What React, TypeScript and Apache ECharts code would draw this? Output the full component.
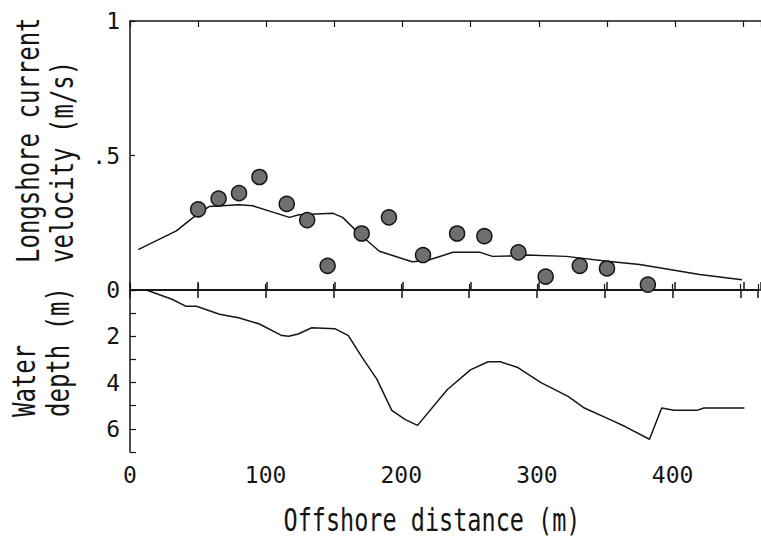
import React, { useEffect, useRef } from "react";
import * as echarts from "echarts";

// Observed longshore current velocity (dots)
const obsDistance = [50, 65, 80, 95, 115, 130, 145, 170, 190, 215, 240, 260, 285, 305, 330, 350, 380];
const obsVelocity = [0.30, 0.34, 0.36, 0.42, 0.32, 0.26, 0.09, 0.21, 0.27, 0.13, 0.21, 0.20, 0.14, 0.05, 0.09, 0.08, 0.02];

// Computed longshore current velocity (line)
const velDistance = [6, 34, 49, 58, 80, 90, 117, 124, 149, 156, 168, 183, 207, 218, 237, 257, 266, 281, 291, 320, 350, 374, 418, 449];
const velValues = [0.15, 0.22, 0.28, 0.31, 0.317, 0.313, 0.27, 0.28, 0.285, 0.27, 0.21, 0.144, 0.105, 0.11, 0.14, 0.14, 0.125, 0.127, 0.13, 0.125, 0.107, 0.095, 0.058, 0.038];

// Water depth profile
const depthDistance = [12, 31, 41, 49, 66, 80, 95, 112, 117, 124, 134, 151, 161, 171, 182, 193, 203, 212, 234, 251, 264, 273, 286, 303, 323, 335, 354, 365, 383, 392, 401, 418, 423, 453];
const depthValues = [0, 0.4, 0.7, 0.7, 1.05, 1.2, 1.46, 1.97, 2.0, 1.9, 1.63, 1.67, 1.97, 2.9, 3.85, 5.2, 5.6, 5.85, 4.3, 3.45, 3.1, 3.1, 3.35, 4.0, 4.6, 5.1, 5.6, 5.9, 6.45, 5.1, 5.2, 5.2, 5.1, 5.1];

const xTickLabels = ["0", "100", "200", "300", "400"];
const velTickLabels = ["0", ".5", "1"];
const depthTickLabels = ["2", "4", "6"];

const FONT = "DejaVu Sans Mono";
const INK = "#151515";

export default function App() {
  const ref = useRef<HTMLDivElement>(null);
  useEffect(() => {
    const chart = echarts.init(ref.current!, null, { renderer: "svg" });
    const axisLine = { show: true, lineStyle: { color: INK, width: 1.5 } };
    const labelStyle = { fontFamily: FONT, fontSize: 23, color: INK };
    const xBase = { type: "value", min: 0, max: 463, interval: 50, splitLine: { show: false } };
    const titleStyle = (text: string, align: string, size: number) => ({
      text, fontFamily: FONT, fontSize: size, fill: INK, align, verticalAlign: "middle",
    });
    chart.setOption({
      animation: false,
      backgroundColor: "#ffffff",
      grid: [
        { left: 130, right: 0, top: 21, height: 269 },
        { left: 130, right: 0, top: 290, height: 162 },
      ],
      xAxis: [
        { ...xBase, gridIndex: 0, position: "bottom", axisLine, axisTick: { inside: true, length: 8, lineStyle: { color: INK, width: 1.5 } }, axisLabel: { show: false } },
        { ...xBase, gridIndex: 0, position: "top", axisLine, axisTick: { inside: true, length: 6, lineStyle: { color: INK, width: 1.2 } }, axisLabel: { show: false } },
        {
          ...xBase, gridIndex: 1, position: "bottom", axisLine,
          axisTick: { inside: true, length: 6, lineStyle: { color: INK, width: 1.2 } },
          axisLabel: {
            ...labelStyle, margin: 11,
            formatter: (v: number) => (xTickLabels.includes(String(v)) ? String(v) : ""),
          },
        },
        { ...xBase, gridIndex: 1, position: "top", axisLine, axisTick: { inside: true, length: 8, lineStyle: { color: INK, width: 1.5 } }, axisLabel: { show: false } },
      ],
      yAxis: [
        {
          type: "value", gridIndex: 0, min: 0, max: 1, interval: 0.5, axisLine,
          splitLine: { show: false },
          axisTick: { inside: true, length: 5, lineStyle: { color: INK, width: 1.2 } },
          axisLabel: {
            ...labelStyle, margin: 10,
            formatter: (v: number) => (v === 0 ? velTickLabels[0] : v === 0.5 ? velTickLabels[1] : v === 1 ? velTickLabels[2] : ""),
          },
        },
        {
          type: "value", gridIndex: 1, min: 0, max: 7, interval: 1, inverse: true, axisLine,
          splitLine: { show: false },
          axisTick: { inside: true, length: 6, lineStyle: { color: INK, width: 1.2 } },
          axisLabel: {
            ...labelStyle, margin: 10,
            formatter: (v: number) => (depthTickLabels.includes(String(v)) ? String(v) : ""),
          },
        },
      ],
      series: [
        {
          type: "line", xAxisIndex: 0, yAxisIndex: 0, showSymbol: false,
          data: velDistance.map((d, i) => [d, velValues[i]]),
          lineStyle: { color: INK, width: 1.5 }, z: 2,
        },
        {
          type: "scatter", xAxisIndex: 0, yAxisIndex: 0, symbolSize: 15,
          data: obsDistance.map((d, i) => [d, obsVelocity[i]]),
          itemStyle: { color: "#6f6f6f", borderColor: INK, borderWidth: 1.5, opacity: 1 }, z: 3,
        },
        {
          type: "line", xAxisIndex: 2, yAxisIndex: 1, showSymbol: false,
          data: depthDistance.map((d, i) => [d, depthValues[i]]),
          lineStyle: { color: INK, width: 1.5 },
        },
      ],
      graphic: [
        { type: "text", x: 28, y: 263, rotation: Math.PI / 2, scaleY: 1.35, style: titleStyle("Longshore current", "left", 24) },
        { type: "text", x: 62, y: 263, rotation: Math.PI / 2, scaleY: 1.35, style: titleStyle("velocity (m/s)", "left", 24) },
        { type: "text", x: 24, y: 417, rotation: Math.PI / 2, scaleY: 1.35, style: titleStyle("Water", "left", 24) },
        { type: "text", x: 58, y: 417, rotation: Math.PI / 2, scaleY: 1.35, style: titleStyle("depth (m)", "left", 24) },
        { type: "text", x: 432, y: 520, scaleY: 1.35, style: titleStyle("Offshore distance (m)", "center", 23.5) },
      ],
    });
    return () => chart.dispose();
  }, []);
  return <div ref={ref} style={{ position: "absolute", left: 0, top: 0, width: 761, height: 538 }} />;
}
